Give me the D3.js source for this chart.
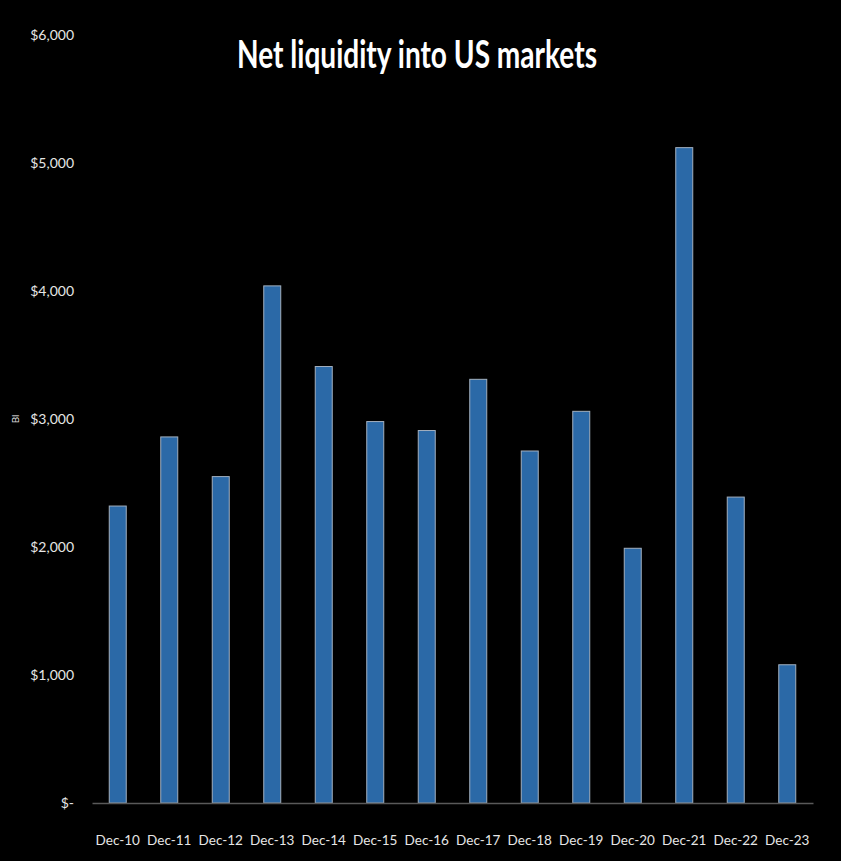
<!DOCTYPE html>
<html>
<head>
<meta charset="utf-8">
<script src="https://cdn.jsdelivr.net/npm/d3@7"></script>
<style>
  html, body { margin: 0; padding: 0; background: #000; }
  svg { display: block; }
</style>
</head>
<body>
<svg id="chart" width="841" height="861"></svg>
<script>
const title = "Net liquidity into US markets";
const yAxisLabel = "Bl";
const categories = ["Dec-10","Dec-11","Dec-12","Dec-13","Dec-14","Dec-15","Dec-16","Dec-17","Dec-18","Dec-19","Dec-20","Dec-21","Dec-22","Dec-23"];
const values = [2320, 2860, 2550, 4040, 3410, 2980, 2910, 3310, 2750, 3060, 1990, 5120, 2390, 1080];
const yTicks = [0, 1000, 2000, 3000, 4000, 5000, 6000];

const svg = d3.select("#chart");
svg.append("rect").attr("width", 841).attr("height", 861).attr("fill", "#000");

const x = d3.scaleBand().domain(categories).range([92, 813])
  .paddingInner(0.67).paddingOuter(0.335);
const y = d3.scaleLinear().domain([0, 6000]).range([803, 35]);

const fmt = v => v === 0 ? "$-" : "$" + d3.format(",")(v);

// Y axis labels
const yAxis = d3.axisLeft(y).tickValues(yTicks).tickFormat(fmt).tickSize(0).tickPadding(0);
const yg = svg.append("g").attr("transform", "translate(74,0)").call(yAxis);
yg.select(".domain").remove();
yg.selectAll("text")
  .attr("fill", "#e6e6e6")
  .attr("font-family", "Lato, 'Open Sans', sans-serif")
  .attr("font-size", 14)
  .attr("dx", 0);

// Bars
svg.append("g").selectAll("rect")
  .data(categories.map((c, i) => ({c, v: values[i]})))
  .join("rect")
  .attr("x", d => x(d.c))
  .attr("y", d => y(d.v))
  .attr("width", x.bandwidth())
  .attr("height", d => y(0) - y(d.v))
  .attr("fill", "#2b69a7")
  .attr("stroke", "#a3b0bf")
  .attr("stroke-width", 1);

// X axis
const xAxis = d3.axisBottom(x).tickSize(0).tickPadding(0);
const xg = svg.append("g").attr("transform", `translate(0,${y(0)})`).call(xAxis);
xg.select(".domain").attr("stroke", "#595959").attr("stroke-width", 1.5);
xg.selectAll("text")
  .attr("fill", "#e6e6e6")
  .attr("font-family", "Lato, 'Open Sans', sans-serif")
  .attr("font-size", 13.5)
  .attr("y", 32);

// Y axis title
svg.append("text")
  .attr("transform", "translate(19,419) rotate(-90)")
  .attr("text-anchor", "middle")
  .attr("fill", "#d9d9d9")
  .attr("font-family", "Lato, sans-serif")
  .attr("font-size", 10)
  .text(yAxisLabel);

// Title
svg.append("text")
  .attr("x", 237).attr("y", 68)
  .attr("fill", "#ffffff")
  .attr("font-family", "Lato, 'Open Sans', sans-serif")
  .attr("font-weight", 700)
  .attr("font-size", 39)
  .attr("textLength", 360)
  .attr("lengthAdjust", "spacingAndGlyphs")
  .text(title);
</script>
</body>
</html>
